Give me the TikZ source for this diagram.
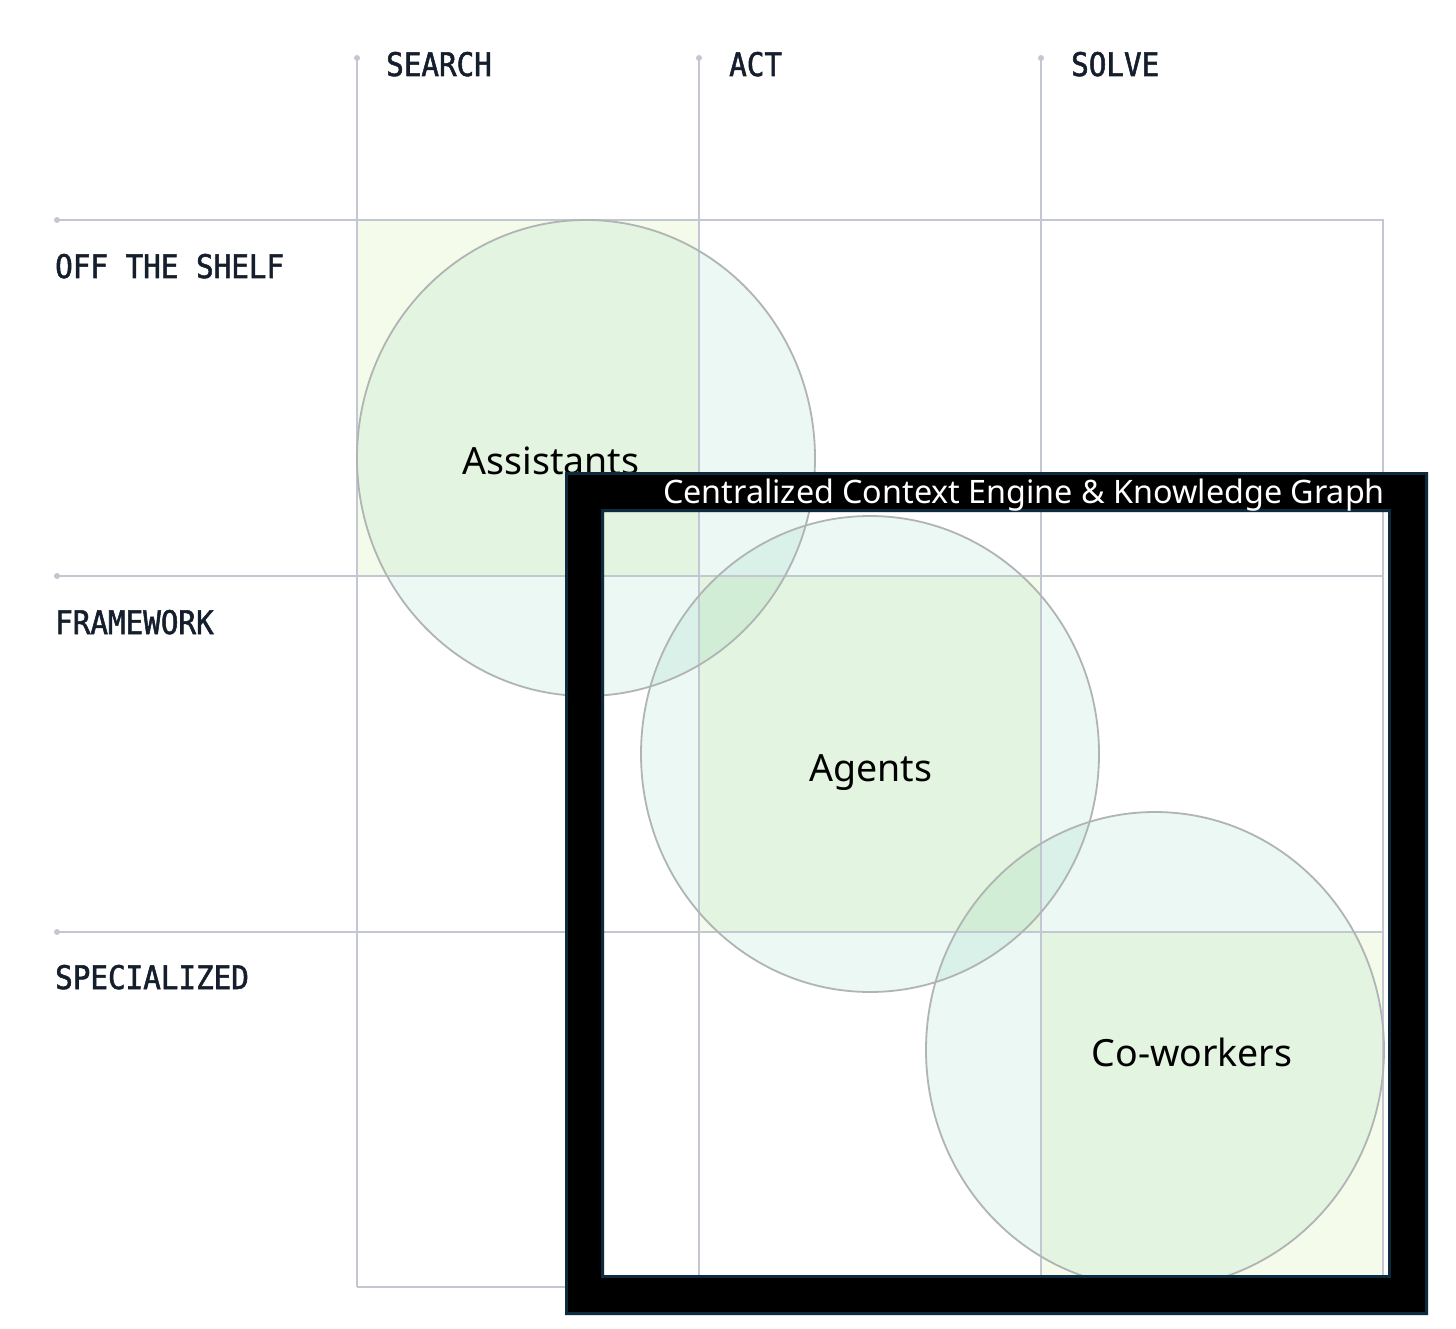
\documentclass[tikz,border=0pt]{standalone}
\usepackage{fontspec}
\newfontfamily\monof[FakeStretch=0.9,FakeBold=1.6]{DejaVu Sans Mono}
\newfontfamily\sansf{Noto Sans}
\definecolor{gridc}{HTML}{C3C7D1}
\definecolor{labc}{HTML}{151E2C}
\definecolor{cellc}{HTML}{F5FBEA}
\definecolor{circc}{HTML}{ECF8F4}
\definecolor{circtwo}{HTML}{DAF1E9}
\definecolor{cellcirc}{HTML}{E3F4E0}
\definecolor{cellcirctwo}{HTML}{D2EDD6}
\definecolor{circline}{HTML}{B0B4B4}
\definecolor{framec}{HTML}{0D2B3E}
\tikzset{
  gridline/.style={draw=gridc, line width=1.8pt},
  enddot/.style={circle, fill=gridc, inner sep=0pt, minimum size=6pt},
  axislab/.style={font=\monof\fontsize{32.5}{36}\selectfont, text=labc, inner sep=0pt, anchor=base west},
  circlab/.style={font=\sansf\fontsize{37.5}{42}\selectfont, text=black, inner sep=0pt, anchor=base},
  bubline/.style={draw=circline, line width=1.8pt},
  shA/.style={insert path={(586,458) ellipse [x radius=229, y radius=238]}},
  shB/.style={insert path={(870,754) ellipse [x radius=229, y radius=238]}},
  shC/.style={insert path={(1155,1050) ellipse [x radius=229, y radius=238]}},
  cellA/.style={insert path={(357,220) rectangle (699,576)}},
  cellB/.style={insert path={(699,576) rectangle (1041,932)}},
  cellC/.style={insert path={(1041,932) rectangle (1383,1287)}},
}
\begin{document}
\begin{tikzpicture}[x=1pt,y=-1pt]
\useasboundingbox (0,0) rectangle (1456,1329);
\fill[white] (0,0) rectangle (1456,1329);
% bubbles over white
\fill[circc, shA];
\fill[circc, shB];
\fill[circc, shC];
\begin{scope}\clip[shA]; \fill[circtwo, shB]; \end{scope}
\begin{scope}\clip[shB]; \fill[circtwo, shC]; \end{scope}
% highlighted cells
\begin{scope}
  \clip[cellA];
  \fill[cellc, cellA];
  \fill[cellcirc, shA];
\end{scope}
\begin{scope}
  \clip[cellB];
  \fill[cellc, cellB];
  \fill[cellcirc, shA];
  \fill[cellcirc, shB];
  \fill[cellcirc, shC];
  \begin{scope}\clip[shA]; \fill[cellcirctwo, shB]; \end{scope}
  \begin{scope}\clip[shC]; \fill[cellcirctwo, shB]; \end{scope}
\end{scope}
\begin{scope}
  \clip[cellC];
  \fill[cellc, cellC];
  \fill[cellcirc, shC];
\end{scope}
% grid
\coordinate (v1t) at (357,58);  \coordinate (v1b) at (357,1287);
\coordinate (v2t) at (699,58);  \coordinate (v2b) at (699,1287);
\coordinate (v3t) at (1041,58); \coordinate (v3b) at (1041,1287);
\coordinate (h1l) at (57,220);  \coordinate (h1r) at (1383,220);
\coordinate (h2l) at (57,576);  \coordinate (h2r) at (1383,576);
\coordinate (h3l) at (57,932);  \coordinate (h3r) at (1383,932);
\coordinate (br) at (1383,1287);
\draw[gridline] (v1t) -- (v1b);
\draw[gridline] (v2t) -- (v2b);
\draw[gridline] (v3t) -- (v3b);
\draw[gridline] (h1l) -- (h1r) -- (br) -- (v1b);
\draw[gridline] (h2l) -- (h2r);
\draw[gridline] (h3l) -- (h3r);
\foreach \p in {v1t,v2t,v3t,h1l,h2l,h3l} \node[enddot] at (\p) {};
% bubble outlines
\draw[bubline, shA];
\draw[bubline, shB];
\draw[bubline, shC];
% axis labels
\node[axislab] (search) at (386,76) {SEARCH};
\node[axislab] (act) at (729,76) {ACT};
\node[axislab] (solve) at (1071,76) {SOLVE};
\node[axislab] (offshelf) at (55,278) {OFF THE SHELF};
\node[axislab] (framework) at (55,634) {FRAMEWORK};
\node[axislab] (special) at (55,989) {SPECIALIZED};
% bubble labels
\node[circlab] (assist) at (551,474) {Assistants};
\node[circlab] (agents) at (871,781) {Agents};
\node[circlab] (cowork) at (1192,1066) {Co-workers};
% frame
\fill[black, even odd rule] (565,472) rectangle (1428,1315) (604,512) rectangle (1388,1275);
\draw[framec, line width=3pt] (566.5,473.5) rectangle (1426.5,1313.5);
\draw[framec, line width=3pt] (602.5,510.5) rectangle (1389.5,1276.5);
\node[font=\sansf\fontsize{32.3}{36}\selectfont, text=white, inner sep=0pt, anchor=base east] (title) at (1385,503) {Centralized Context Engine \& Knowledge Graph};
\end{tikzpicture}
\end{document}
